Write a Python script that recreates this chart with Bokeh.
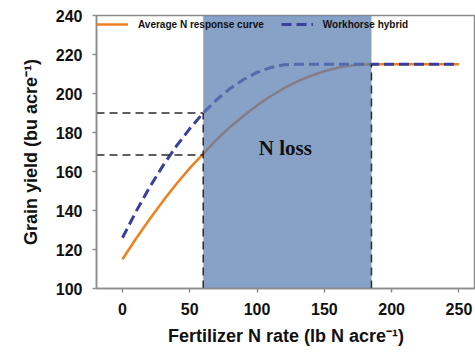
from bokeh.plotting import figure
from bokeh.models import Legend, LegendItem, FixedTicker
from bokeh.core.properties import value
from bokeh.embed import file_html
from bokeh.resources import INLINE

# Data
n_rate = [0, 10, 20, 30, 40, 50, 60, 70, 80, 90, 100, 110, 120, 130, 140, 150, 160, 170, 180, 185, 200, 250]
avg_yield = [115, 125.5, 135.4, 144.8, 153.6, 161.7, 169.0, 176.4, 182.8, 188.6, 193.9, 198.6, 202.7,
             206.2, 209.1, 211.4, 213.2, 214.3, 214.9, 215, 215, 215]
wh_rate = [0, 10, 20, 30, 40, 50, 60, 70, 80, 90, 100, 110, 120, 130, 185, 250]
wh_yield = [126, 139.4, 151.7, 162.9, 173, 182, 190, 196.8, 202.6, 207.2, 210.8, 213.3, 214.7, 215, 215, 215]

loss_start, loss_end = 60, 185
yield_at_start_avg, yield_at_start_wh, plateau = 168.5, 190, 215
y_min, y_max = 100, 240
label_x, label_y = 121, 172

x_ticks = [0, 50, 100, 150, 200, 250]
y_ticks = [100, 120, 140, 160, 180, 200, 220, 240]

ORANGE = "#f07f1e"
BLUE = "#3b3f9c"
SHADE = "#5a7db2"
DASHK = "#2b2b2b"

p = figure(width=475, height=354, output_backend="svg", toolbar_location=None,
           x_range=(-19.3, 262.3), y_range=(y_min, y_max),
           min_border_left=96, min_border_right=0, min_border_top=15, min_border_bottom=66)
p.grid.visible = False
p.outline_line_color = "#8c8c8c"
p.outline_line_width = 1.5

l_avg = p.line(n_rate, avg_yield, line_color=ORANGE, line_width=2.5)
l_wh = p.line(wh_rate, wh_yield, line_color=BLUE, line_width=3, line_dash="10 5")

# N loss shaded band (semi transparent, over the curves)
p.quad(left=[loss_start], right=[loss_end], bottom=[y_min], top=[y_max],
       fill_color=SHADE, fill_alpha=0.72, line_color=None)

# reference dashed lines
p.line([-19.3, loss_start], [yield_at_start_wh, yield_at_start_wh], line_color=DASHK, line_width=1.5, line_dash="8 5")
p.line([-19.3, loss_start], [yield_at_start_avg, yield_at_start_avg], line_color=DASHK, line_width=1.5, line_dash="8 5")
p.line([loss_start, loss_start], [y_min, yield_at_start_wh], line_color=DASHK, line_width=1.5, line_dash="8 5")
p.line([loss_end, loss_end], [y_min, plateau], line_color=DASHK, line_width=1.5, line_dash="8 5")

p.text(x=[label_x], y=[label_y], text=["N loss"], text_font=value("Liberation Serif"),
       text_font_style="bold", text_font_size="21px", text_align="center",
       text_baseline="middle", text_color="#111111")

legend = Legend(items=[LegendItem(label="Average N response curve", renderers=[l_avg]),
                       LegendItem(label="Workhorse hybrid", renderers=[l_wh])],
                orientation="horizontal", location=(0, 258),
                background_fill_alpha=0, border_line_color=None,
                padding=0, margin=0, spacing=17, glyph_width=32, glyph_height=12,
                label_height=12, label_standoff=10,
                label_text_font="Liberation Sans", label_text_font_style="bold",
                label_text_font_size="10px", label_text_color="#111111")
p.add_layout(legend, "center")

for ax in (p.xaxis[0], p.yaxis[0]):
    ax.axis_line_color = "#8c8c8c"
    ax.axis_line_width = 1.5
    ax.major_tick_line_color = "#8c8c8c"
    ax.major_tick_line_width = 1.5
    ax.major_tick_out = 4
    ax.major_tick_in = 0
    ax.minor_tick_line_color = None
    ax.major_label_text_font = "Liberation Sans"
    ax.major_label_text_font_style = "bold"
    ax.major_label_text_font_size = "16px"
    ax.major_label_text_color = "#111111"
    ax.axis_label_text_font = "Liberation Sans"
    ax.axis_label_text_font_style = "bold"
    ax.axis_label_text_font_size = "18px"
    ax.axis_label_text_color = "#111111"

p.xaxis.ticker = FixedTicker(ticks=x_ticks)
p.yaxis.ticker = FixedTicker(ticks=y_ticks)
p.xaxis.axis_label = "Fertilizer N rate (lb N acre\u207b\u00b9)"
p.yaxis.axis_label = "Grain yield (bu acre\u207b\u00b9)"
p.xaxis.major_label_standoff = 10
p.xaxis.axis_label_standoff = 8
p.yaxis.major_label_standoff = 10
p.yaxis.axis_label_standoff = 12

open("out.html", "w").write(file_html(p, INLINE))
